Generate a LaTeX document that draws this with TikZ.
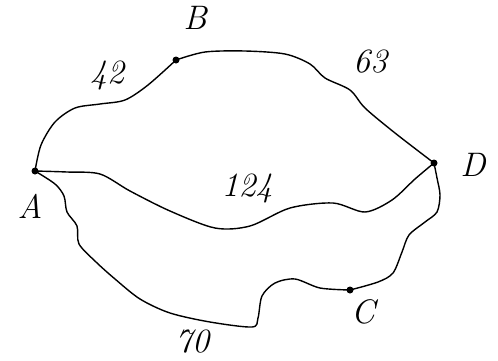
\documentclass[tikz,border=0pt]{standalone}
\begin{document}
\begin{tikzpicture}[x=0.5pt,y=-0.5pt,
  vertex/.style={circle,fill=black,inner sep=0pt,minimum size=3.5pt},
  lbl/.style={font=\fontsize{17}{19}\selectfont\itshape,inner sep=0pt},
  edge/.style={line width=0.7pt,line join=round,line cap=round}]
\useasboundingbox (0,0) rectangle (498,360);
% vertices
\node[vertex] (A) at (35,171) {};
\node[vertex] (B) at (176,60) {};
\node[vertex] (D) at (434,163) {};
\node[vertex] (C) at (350,290) {};
% labels
\node[lbl] (lA) at (30,206) {A};
\node[lbl] (lB) at (195,18) {B};
\node[lbl] (lC) at (363,312) {C};
\node[lbl] (lD) at (473,165) {D};
\node[lbl] (l42) at (107,75) {42};
\node[lbl] (l63) at (370,62) {63};
\node[lbl] (l124) at (247,188) {124};
\node[lbl] (l70) at (192,342) {70};
% edges
\draw[edge] plot[smooth] coordinates {(A) (41,145) (55,122) (75,108) (100,104) (125,100) (148,85) (B)};
\draw[edge] plot[smooth] coordinates {(B) (205,52) (245,51) (285,54) (310,64) (325,78) (350,90) (365,108) (395,133) (D)};
\draw[edge] plot[smooth] coordinates {(A) (67,172) (100,174) (130,191) (170,211) (215,228) (250,226) (290,208) (333,203) (365,212) (392,200) (415,179) (D)};
\draw[edge] plot[smooth] coordinates {(A) (55,184) (64,196) (67,212) (77,226) (79,244) (96,262) (115,279) (140,299) (170,313) (210,322) (252,327) (258,318) (262,296) (275,283) (295,279) (320,288) (C)};
\draw[edge] plot[smooth] coordinates {(C) (378,282) (393,273) (402,252) (409,235) (425,222) (437,212) (440,195) (437,178) (D)};
\end{tikzpicture}
\end{document}
